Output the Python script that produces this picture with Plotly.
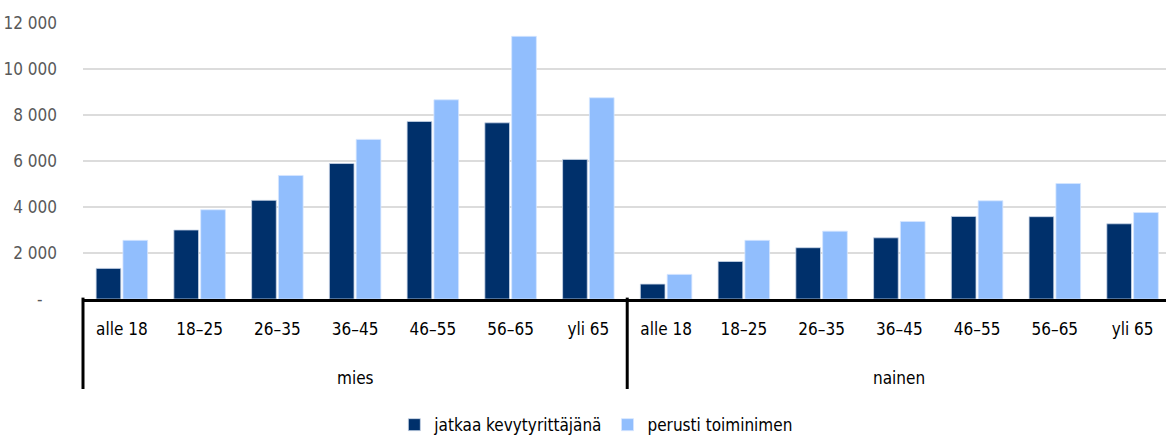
import plotly.graph_objects as go

# Age groups within each gender
genders = ["mies", "nainen"]
age_groups = ["alle 18", "18–25", "26–35", "36–45", "46–55", "56–65", "yli 65"]

# Series values, men first then women
jatkaa = [1330, 3000, 4290, 5890, 7720, 7660, 6070,
          650, 1630, 2230, 2660, 3590, 3580, 3270]
perusti = [2550, 3880, 5370, 6940, 8660, 11420, 8750,
           1070, 2550, 2950, 3370, 4270, 5020, 3760]

y_tickvals = [0, 2000, 4000, 6000, 8000, 10000, 12000]
y_ticktext = ["-\u00a0\u00a0\u00a0", "2 000", "4 000", "6 000", "8 000", "10 000", "12 000"]

n_age = len(age_groups)
positions = list(range(len(genders) * n_age))
tick_labels = [a for _ in genders for a in age_groups]

FONT = "DejaVu Sans Condensed"
SIZE = 17
DARK = "#00306B"
LIGHT = "#91BEFD"

fig = go.Figure()
fig.add_trace(go.Bar(
    x=positions, y=jatkaa, name="jatkaa kevytyrittäjänä",
    marker=dict(color=DARK, line=dict(color="#c9d6e8", width=0.8)),
))
fig.add_trace(go.Bar(
    x=positions, y=perusti, name="perusti toiminimen",
    marker=dict(color=LIGHT, line=dict(color="#d6e6ff", width=0.8)),
))

# Gender group labels and separators below the axis
for gi, g in enumerate(genders):
    start = gi * n_age
    fig.add_annotation(
        x=(start + start + n_age - 1) / 2, xref="x",
        y=-0.286, yref="paper", yanchor="middle",
        text=g, showarrow=False,
        font=dict(family=FONT, size=SIZE, color="#000000"),
    )
    sep = dict(type="line", yref="paper", y0=0.005, y1=-0.326,
               line=dict(color="#000000", width=3))
    if gi == 0:
        # left edge of the plot area (kept unclipped)
        fig.add_shape(xref="paper", x0=0, x1=0, **sep)
    else:
        fig.add_shape(xref="x", x0=start - 0.5, x1=start - 0.5, **sep)

fig.update_layout(
    width=1166, height=436,
    margin=dict(l=83, r=0, t=23, b=137),
    paper_bgcolor="white", plot_bgcolor="white",
    barmode="group", bargap=0.31, bargroupgap=0.08,
    font=dict(family=FONT, size=SIZE, color="#000000"),
    legend=dict(orientation="h", x=0.474, xanchor="center",
                yref="container", y=0.025, yanchor="middle",
                font=dict(family=FONT, size=SIZE, color="#000000"),
                itemwidth=30, traceorder="normal"),
    showlegend=True,
)

fig.update_xaxes(
    range=[-0.5, len(positions) - 0.57],
    tickvals=positions, ticktext=tick_labels,
    showgrid=False, zeroline=False,
    showline=True, linecolor="#000000", linewidth=3,
    tickfont=dict(family=FONT, size=SIZE, color="#000000"),
    ticks="", ticklabelstandoff=13,
)
fig.update_yaxes(
    range=[0, 12000],
    tickvals=y_tickvals, ticktext=y_ticktext,
    showgrid=True, gridcolor="#dcdcdc", gridwidth=1.5,
    zeroline=False, showline=False,
    tickfont=dict(family=FONT, size=SIZE, color="#595959"),
    ticklabelstandoff=25,
)

fig.write_html("out.html")
